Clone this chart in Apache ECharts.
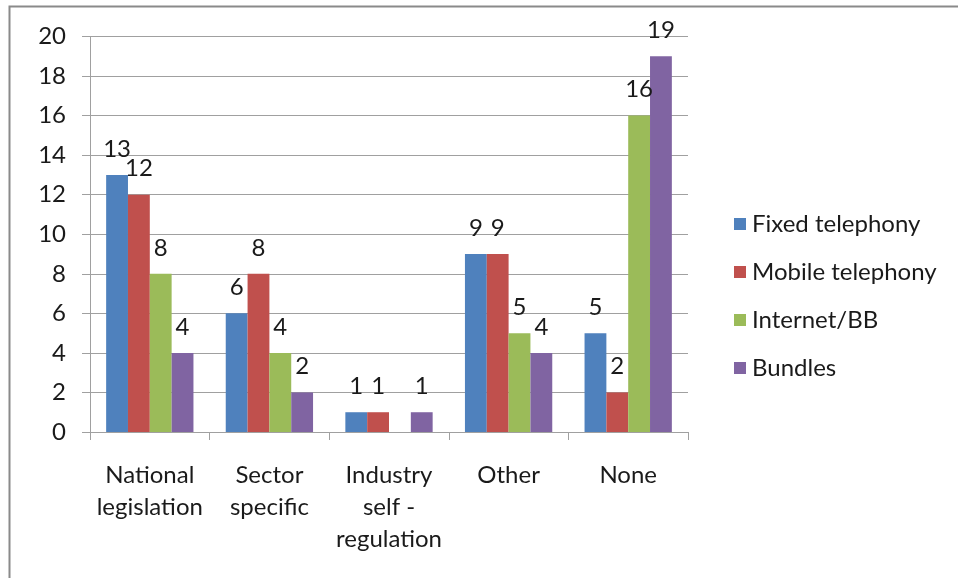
<!DOCTYPE html>
<html>
<head>
<meta charset="utf-8">
<script src="https://cdn.jsdelivr.net/npm/echarts@6/dist/echarts.min.js"></script>
<style>
html,body{margin:0;padding:0;background:#fff;}
#chart{width:958px;height:578px;}
</style>
</head>
<body>
<div id="chart"></div>
<script>
const categories = ["National\nlegislation", "Sector\nspecific", "Industry\nself -\nregulation", "Other", "None"];
const seriesNames = ["Fixed telephony", "Mobile telephony", "Internet/BB", "Bundles"];
const fixedTelephony = [13, 6, 1, 9, 5];
const mobileTelephony = [12, 8, 1, 9, 2];
const internetBB = [8, 4, null, 5, 16];
const bundles = [4, 2, 1, 4, 19];
const yTicks = [0, 2, 4, 6, 8, 10, 12, 14, 16, 18, 20];

const colors = ["#4F81BD", "#C0504D", "#9BBB59", "#8064A2"];
const values = [fixedTelephony, mobileTelephony, internetBB, bundles];
const FONT = "Lato";
const TXT = "#1a1a1a";
const FS = 24;

const chart = echarts.init(document.getElementById('chart'), null, {renderer: 'canvas'});
chart.setOption({
  animation: false,
  backgroundColor: '#fff',
  textStyle: {fontFamily: FONT},
  graphic: [{
    type: 'rect', silent: true, z: 100,
    shape: {x: 9.5, y: 6.5, width: 1200, height: 800},
    style: {fill: 'none', stroke: '#8a8a8a', lineWidth: 2}
  }],
  grid: {left: 90, right: 270, top: 36.5, bottom: 146, containLabel: false},
  legend: {
    orient: 'vertical', left: 729, top: 207,
    itemWidth: 12, itemHeight: 12, itemGap: 24,
    icon: 'rect',
    textStyle: {fontFamily: FONT, fontSize: FS, color: TXT, lineHeight: 24, padding: [0, 0, 0, 1]},
    data: seriesNames
  },
  xAxis: {
    type: 'category',
    data: categories,
    axisLine: {show: true, lineStyle: {color: '#a0a0a0', width: 1}},
    axisTick: {show: true, length: 8, lineStyle: {color: '#a0a0a0'}},
    axisLabel: {fontFamily: FONT, fontSize: FS, color: TXT, lineHeight: 32, margin: 27, interval: 0}
  },
  yAxis: {
    type: 'value', min: yTicks[0], max: yTicks[yTicks.length - 1], interval: 2,
    axisLine: {show: true, lineStyle: {color: '#a0a0a0', width: 1}},
    axisTick: {show: true, length: 8, lineStyle: {color: '#a0a0a0'}},
    splitLine: {show: true, lineStyle: {color: '#a0a0a0', width: 1}},
    axisLabel: {fontFamily: FONT, fontSize: FS, color: TXT, margin: 24}
  },
  series: seriesNames.map((name, i) => ({
    name: name,
    type: 'bar',
    data: values[i],
    barGap: '0%',
    barCategoryGap: '27%',
    itemStyle: {color: colors[i]},
    label: {show: true, position: 'top', distance: 14, fontFamily: FONT, fontSize: FS, color: TXT}
  }))
});
</script>
</body>
</html>
